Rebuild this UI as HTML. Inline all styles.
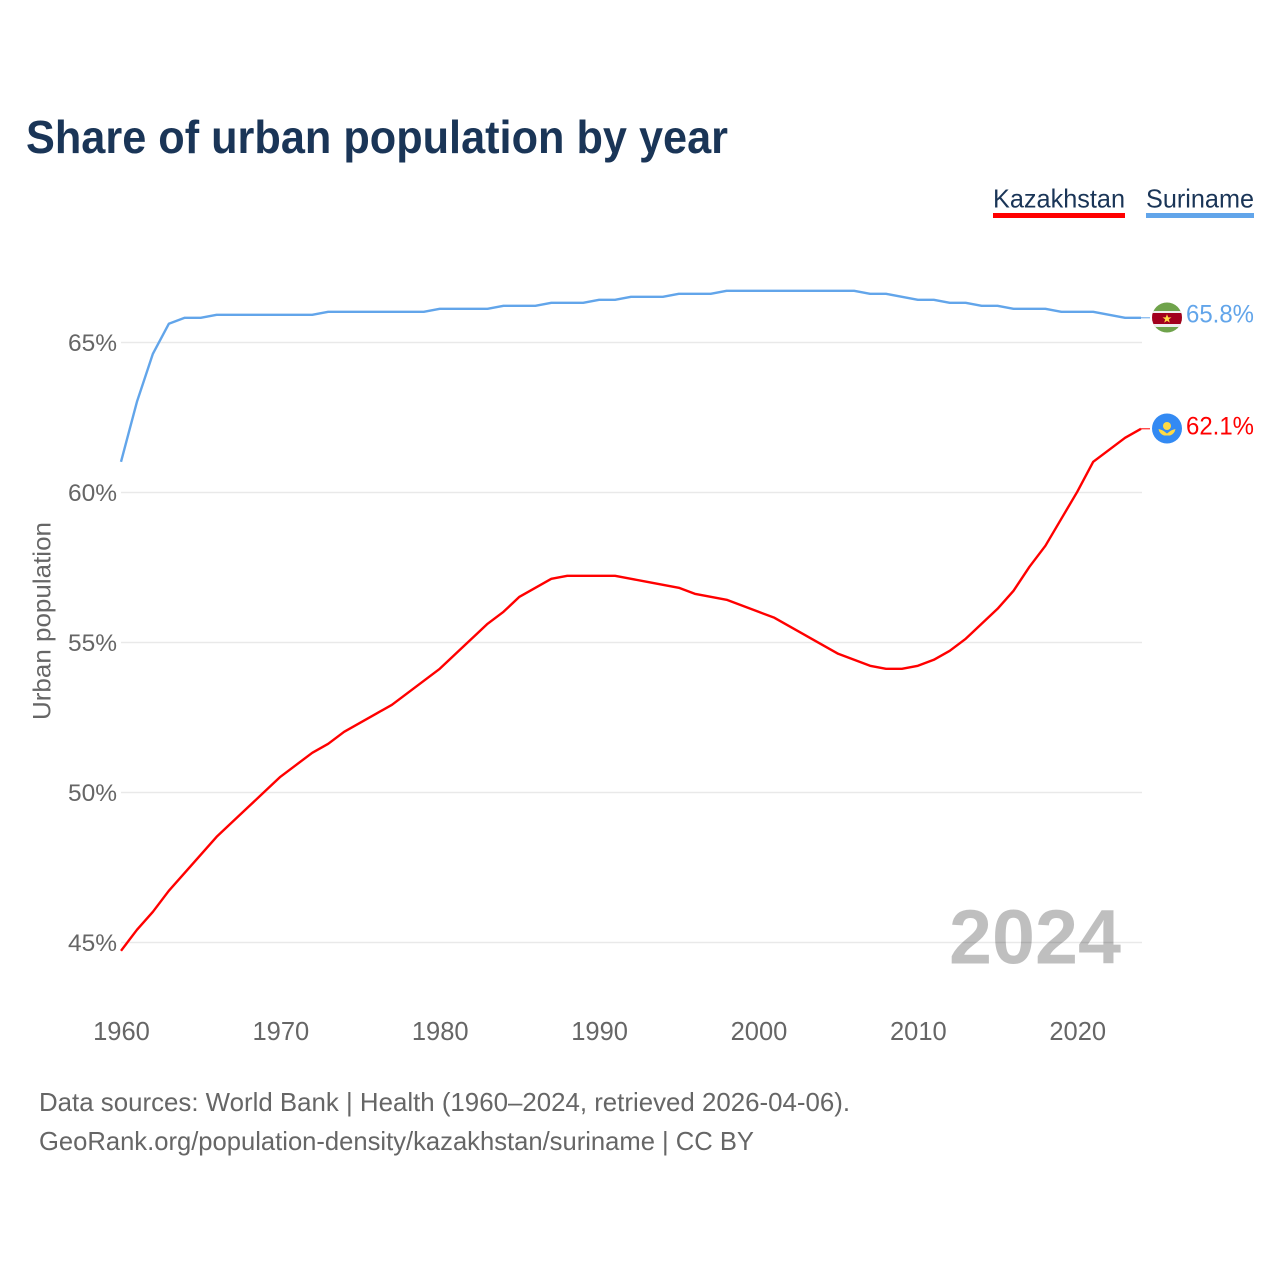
<!DOCTYPE html>
<html lang="en">
<head>
<meta charset="utf-8">
<title>Share of urban population by year</title>
<style>
html,body{margin:0;padding:0;background:#fff;width:1280px;height:1280px;overflow:hidden}
svg{display:block;font-family:"Liberation Sans",sans-serif}
</style>
</head>
<body>
<svg id="chart" width="1280" height="1280" viewBox="0 0 1280 1280" xmlns="http://www.w3.org/2000/svg">
  <defs>
    <clipPath id="flag-clip-sr"><circle cx="1167" cy="317.5" r="15"/></clipPath>
  </defs>
  <text x="26" y="153" font-size="46" font-weight="700" fill="#1a3557" textLength="702" lengthAdjust="spacingAndGlyphs">Share of urban population by year</text>

  <g>
    <g>
      <text x="993" y="207.5" font-size="26" fill="#1a3557" textLength="132" lengthAdjust="spacingAndGlyphs">Kazakhstan</text>
      <rect x="993" y="213" width="132" height="5" fill="#ff0000"/>
    </g>
    <g>
      <text x="1146" y="207.5" font-size="26" fill="#1a3557" textLength="108" lengthAdjust="spacingAndGlyphs">Suriname</text>
      <rect x="1146" y="213" width="108" height="5" fill="#62a5ea"/>
    </g>
  </g>

  <g id="grid"></g>
  <g id="yticks"></g>
  <g id="xticks"></g>

  <text transform="translate(50.5,621) rotate(-90)" text-anchor="middle" font-size="25" fill="#666666" textLength="198" lengthAdjust="spacingAndGlyphs">Urban population</text>

  <text x="949" y="963.5" font-size="77" font-weight="700" fill="#000000" fill-opacity="0.25" textLength="172" lengthAdjust="spacingAndGlyphs">2024</text>

  <g id="series"></g>

  <g>
    <g clip-path="url(#flag-clip-sr)">
      <rect x="1152" y="302" width="30" height="31" fill="#6fa34b"/>
      <rect x="1152" y="311" width="30" height="16" fill="#eeeeee"/>
      <rect x="1152" y="313" width="30" height="11" fill="#a2001d"/>
      <polygon points="1167,314.2 1168.2,317.4 1171.5,317.4 1168.8,319.4 1169.8,322.6 1167,320.7 1164.2,322.6 1165.2,319.4 1162.5,317.4 1165.8,317.4" fill="#ffda44"/>
    </g>
  </g>
  <g>
    <circle cx="1167" cy="428.5" r="15" fill="#338af3"/>
    <circle cx="1167" cy="426" r="4" fill="#ffda44"/>
    <path d="M1158.5 429 Q1163 430 1165 432 L1167 433.5 L1169 432 Q1171 430 1175.5 429 Q1174.5 434 1170 435.5 L1164 435.5 Q1159.5 434 1158.5 429Z" fill="#ffda44"/>
  </g>

  <g>
    <text x="39" y="1111" font-size="26" fill="#666666" textLength="811" lengthAdjust="spacingAndGlyphs">Data sources: World Bank | Health (1960–2024, retrieved 2026-04-06).</text>
    <text x="39" y="1150" font-size="26" fill="#666666" textLength="715" lengthAdjust="spacingAndGlyphs">GeoRank.org/population-density/kazakhstan/suriname | CC BY</text>
  </g>
</svg>
<script>
const startYear = 1960;
const yTickValues = [65, 60, 55, 50, 45];
const xTickYears = [1960, 1970, 1980, 1990, 2000, 2010, 2020];
const kazakhstanValues = [44.7,45.4,46.0,46.7,47.3,47.9,48.5,49.0,49.5,50.0,50.5,50.9,51.3,51.6,52.0,52.3,52.6,52.9,53.3,53.7,54.1,54.6,55.1,55.6,56.0,56.5,56.8,57.1,57.2,57.2,57.2,57.2,57.1,57.0,56.9,56.8,56.6,56.5,56.4,56.2,56.0,55.8,55.5,55.2,54.9,54.6,54.4,54.2,54.1,54.1,54.2,54.4,54.7,55.1,55.6,56.1,56.7,57.5,58.2,59.1,60.0,61.0,61.4,61.8,62.1];
const surinameValues = [61.0,63.0,64.6,65.6,65.8,65.8,65.9,65.9,65.9,65.9,65.9,65.9,65.9,66.0,66.0,66.0,66.0,66.0,66.0,66.0,66.1,66.1,66.1,66.1,66.2,66.2,66.2,66.3,66.3,66.3,66.4,66.4,66.5,66.5,66.5,66.6,66.6,66.6,66.7,66.7,66.7,66.7,66.7,66.7,66.7,66.7,66.7,66.6,66.6,66.5,66.4,66.4,66.3,66.3,66.2,66.2,66.1,66.1,66.1,66.0,66.0,66.0,65.9,65.8,65.8];

const NS = 'http://www.w3.org/2000/svg';
const xScale = function (year) { return 121 + (year - 1960) * (1020 / 64); };
const yScale = function (v) { return 342.5 + (65 - v) * 30; };
const lineY = function (v) { return yScale(v) - 0.7; };

function make(tag, attrs, text) {
  const el = document.createElementNS(NS, tag);
  for (const k in attrs) el.setAttribute(k, attrs[k]);
  if (text !== undefined) el.textContent = text;
  return el;
}

const gridGroup = document.getElementById('grid');
const yGroup = document.getElementById('yticks');
yTickValues.forEach(function (v) {
  const line = make('line', {x1: 121, x2: 1142, y1: yScale(v), y2: yScale(v), stroke: '#e9e9e9', 'stroke-width': 1.4});
  
  
  gridGroup.appendChild(line);
  const label = make('text', {x: 117, y: yScale(v) + 8.5, 'text-anchor': 'end', 'font-size': 24.5, fill: '#666666'}, v + '%');
  
  
  yGroup.appendChild(label);
});

const xGroup = document.getElementById('xticks');
xTickYears.forEach(function (yr) {
  const label = make('text', {x: xScale(yr) + 0.5, y: 1040, 'text-anchor': 'middle', 'font-size': 25.5, fill: '#666666'}, String(yr));
  
  
  xGroup.appendChild(label);
});

const seriesGroup = document.getElementById('series');
function pathFor(values) {
  return values.map(function (v, i) {
    return (i ? 'L' : 'M') + xScale(startYear + i).toFixed(2) + ' ' + lineY(v).toFixed(2);
  }).join(' ');
}

const surLine = make('path', {d: pathFor(surinameValues), fill: 'none', stroke: '#62a5ea', 'stroke-width': 2.4, 'stroke-linejoin': 'round'});


seriesGroup.appendChild(surLine);

const kazLine = make('path', {d: pathFor(kazakhstanValues), fill: 'none', stroke: '#ff0000', 'stroke-width': 2.4, 'stroke-linejoin': 'round'});


seriesGroup.appendChild(kazLine);

const surLast = surinameValues[surinameValues.length - 1];
const kazLast = kazakhstanValues[kazakhstanValues.length - 1];
const endX = xScale(startYear + surinameValues.length - 1);

const surConnector = make('line', {x1: endX, x2: 1150, y1: lineY(surLast), y2: lineY(surLast), stroke: '#62a5ea', 'stroke-width': 1});


seriesGroup.appendChild(surConnector);

const kazConnector = make('line', {x1: endX, x2: 1150, y1: lineY(kazLast), y2: lineY(kazLast), stroke: '#ff0000', 'stroke-width': 1});


seriesGroup.appendChild(kazConnector);

const surValue = make('text', {x: 1186, y: yScale(surLast) + 4, 'font-size': 25, fill: '#62a5ea', textLength: 68, lengthAdjust: 'spacingAndGlyphs'}, surLast.toFixed(1) + '%');


seriesGroup.appendChild(surValue);

const kazValue = make('text', {x: 1186, y: yScale(kazLast) + 5, 'font-size': 25, fill: '#ff0000', textLength: 68, lengthAdjust: 'spacingAndGlyphs'}, kazLast.toFixed(1) + '%');


seriesGroup.appendChild(kazValue);
</script>
</body>
</html>
